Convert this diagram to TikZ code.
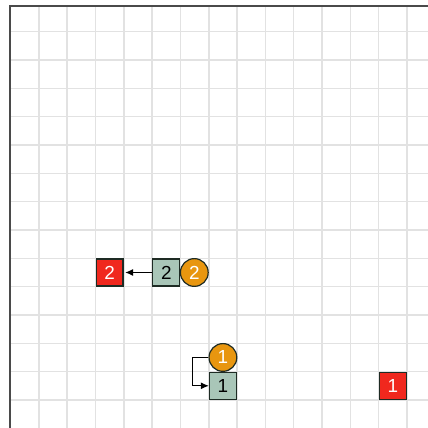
\documentclass[tikz,border=0pt]{standalone}
\usepackage{fontspec}
\setmainfont{Liberation Sans}
\usetikzlibrary{arrows.meta,positioning}
\definecolor{gdgoal}{HTML}{F0281E}
\definecolor{gdcrate}{HTML}{A9C6B8}
\definecolor{gdagent}{HTML}{E8960F}
\definecolor{gdline}{HTML}{E2E2E2}
\definecolor{gdframe}{HTML}{4A4A4A}
\definecolor{gdink}{HTML}{1E2B24}

\begin{document}
\begin{tikzpicture}[x=1cm,y=1cm,
  goal/.style={draw=gdink,fill=gdgoal,line width=1.2pt,minimum size=0.95cm,
               inner sep=0pt,text=white,font=\fontsize{19}{22}\selectfont},
  crate/.style={draw=gdink,fill=gdcrate,line width=1.2pt,minimum size=0.95cm,
               inner sep=0pt,text=black,font=\fontsize{19}{22}\selectfont},
  agent/.style={circle,draw=gdink,fill=gdagent,line width=1.2pt,minimum size=0.98cm,
               inner sep=0pt,text=white,font=\fontsize{19}{22}\selectfont},
  move/.style={-{Latex[length=8pt,width=7pt]},line width=1.1pt,black}]

\useasboundingbox (-0.37,-0.99) rectangle (14.74,14.12);

% ---------------- board: grid and frame --------------------------------------
\draw[gdline,line width=1.5pt] (0,-0.99) grid (14.74,13.9);
\draw[gdframe,line width=2pt] (0,-0.99) -- (0,13.9) -- (14.74,13.9);

% ---------------- goals, crates and agents -----------------------------------
\node[goal] (goal1) at (13.5,0.5) {1};
\node[goal] (goal2) at (3.5,4.5) {2};
\node[crate] (crate1) at (7.5,0.5) {1};
\node[crate] (crate2) at (5.5,4.5) {2};
\node[agent] (agent1) at (7.5,1.5) {1};
\node[agent] (agent2) at (6.49,4.5) {2};

% ---------------- planned moves ----------------------------------------------
\draw[move,shorten >=1.5pt] (crate2.west) -- (goal2.east);
\draw[move] (agent1.west) -- ++(-0.55,0) |- (crate1.west);

\end{tikzpicture}
\end{document}
